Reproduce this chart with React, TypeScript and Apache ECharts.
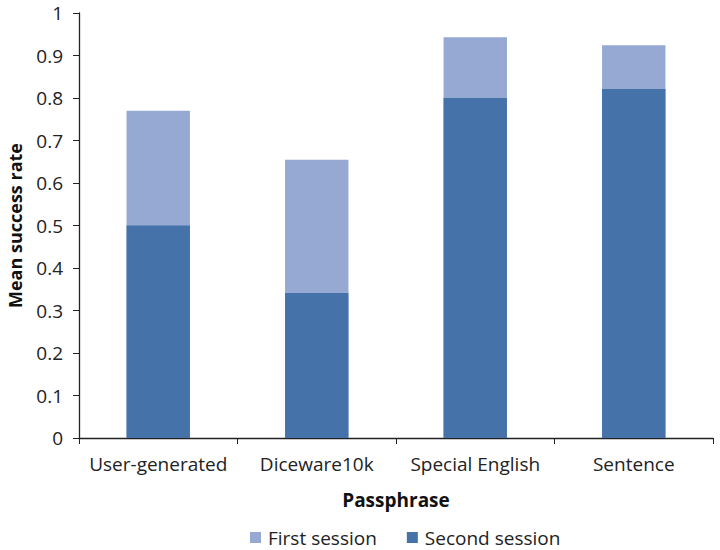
import React, { useEffect, useRef } from "react";
import * as echarts from "echarts";

const categories = ["User-generated", "Diceware10k", "Special English", "Sentence"];
const firstSession = [0.77, 0.655, 0.943, 0.924];
const secondSession = [0.5, 0.341, 0.8, 0.821];
const yTicks = { min: 0, max: 1, interval: 0.1 };

const FONT = "'Open Sans', sans-serif";
const FS = 19;

export default function App() {
  const ref = useRef<HTMLDivElement>(null);
  useEffect(() => {
    if (!ref.current) return;
    const chart = echarts.init(ref.current, null, { renderer: "svg" });
    chart.setOption({
      animation: false,
      textStyle: { fontFamily: FONT },
      grid: { left: 79, right: 7, top: 13, bottom: 112, containLabel: false, outerBoundsMode: "none" },
      legend: {
        top: 523,
        left: 245,
        padding: 5,
        itemWidth: 11,
        itemHeight: 11,
        itemGap: 30,
        icon: "rect",
        textStyle: { fontSize: FS, color: "#222", fontFamily: FONT, lineHeight: 19, padding: [0, 0, 0, 2] },
        data: ["First session", "Second session"],
      },
      xAxis: {
        type: "category",
        data: categories,
        name: "Passphrase",
        nameLocation: "middle",
        nameGap: 52,
        nameTextStyle: { fontSize: FS, fontWeight: "bold", color: "#111", fontFamily: FONT },
        axisLine: { lineStyle: { color: "#222", width: 1.3 } },
        axisTick: { show: true, length: 6, alignWithLabel: false, lineStyle: { color: "#222" } },
        axisLabel: { interval: 0, fontSize: FS, color: "#222", margin: 16, fontFamily: FONT },
      },
      yAxis: {
        type: "value",
        min: yTicks.min,
        max: yTicks.max,
        interval: yTicks.interval,
        name: "Mean success rate",
        nameLocation: "middle",
        nameGap: 55,
        nameTextStyle: { fontSize: 18, fontWeight: "bold", color: "#111", fontFamily: FONT },
        splitLine: { show: false },
        axisLine: { show: true, lineStyle: { color: "#222", width: 1.3 } },
        axisTick: { show: true, length: 6, lineStyle: { color: "#222" } },
        axisLabel: { fontSize: FS, color: "#222", margin: 16, fontFamily: FONT },
      },
      series: [
        {
          name: "First session",
          type: "bar",
          data: firstSession,
          barWidth: "40%",
          barGap: "-100%",
          itemStyle: { color: "#95A9D3" },
        },
        {
          name: "Second session",
          type: "bar",
          data: secondSession,
          barWidth: "40%",
          itemStyle: { color: "#4573A9" },
        },
      ],
    });
    return () => chart.dispose();
  }, []);
  return (
    <div
      ref={ref}
      style={{ position: "fixed", left: 0, top: 0, width: 720, height: 550, background: "#fff" }}
    />
  );
}
